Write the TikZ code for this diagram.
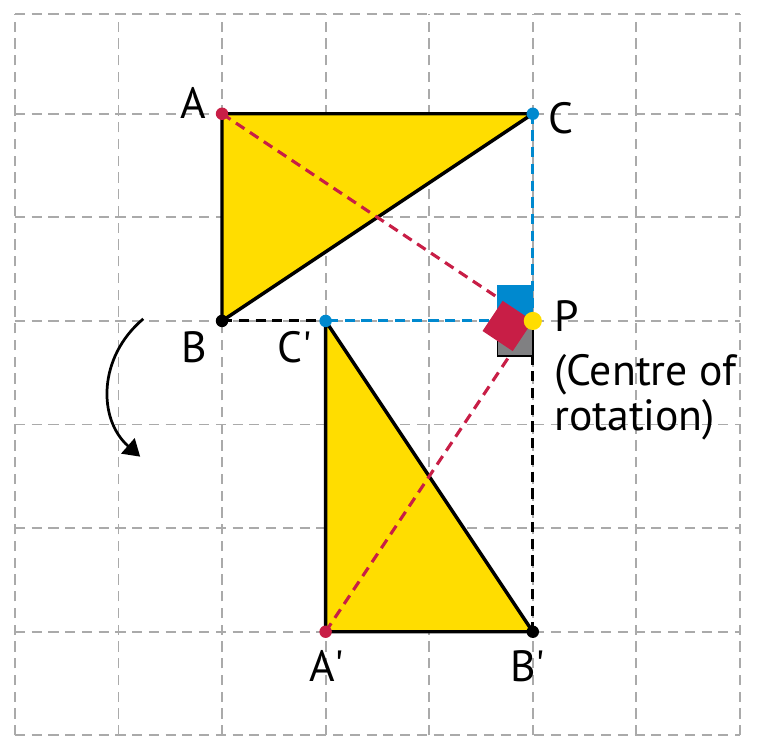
\documentclass[tikz,border=0pt]{standalone}
\usepackage{fontspec}
\setmainfont{PT Sans}
\usetikzlibrary{arrows.meta, positioning}
\definecolor{triyellow}{RGB}{255, 221, 0}
\definecolor{ptred}{RGB}{200, 30, 70}
\definecolor{ptblue}{RGB}{0, 137, 207}
\definecolor{gridgray}{RGB}{170, 170, 170}
\definecolor{sqgray}{RGB}{128, 128, 130}

\begin{document}
\begin{tikzpicture}[
  gridline/.style={gridgray, line width=0.5pt, dash pattern=on 2.8pt off 1.8pt},
  tri/.style={fill=triyellow, draw=black, line width=0.95pt},
  guide/.style={line width=0.85pt, dash pattern=on 2.8pt off 1.8pt},
  dot/.style={circle, fill, inner sep=0pt, minimum size=0.12cm},
  lbl/.style={font=\fontsize{12}{12.4}\selectfont, inner sep=0pt},
  rotarr/.style={-{Triangle[length=4.5pt, width=5.5pt]}, line width=0.75pt}]
  \useasboundingbox (-2.143,-4.141) rectangle (5.164,3.098);
  % grid
  \foreach \x in {-2,...,5} \draw[gridline] (\x,-4) -- (\x,2.96);
  \foreach \y in {-4,...,2} \draw[gridline] (-2,\y) -- (5,\y);
  \draw[gridline] (-2,2.96) -- (5,2.96);
  % points
  \coordinate (A)  at (0,2);
  \coordinate (B)  at (0,0);
  \coordinate (C)  at (3,2);
  \coordinate (P)  at (3,0);
  \coordinate (A1) at (1,-3);
  \coordinate (B1) at (3,-3);
  \coordinate (C1) at (1,0);
  % triangles
  \draw[tri] (A) -- (B) -- (C) -- cycle;
  \draw[tri] (A1) -- (B1) -- (C1) -- cycle;
  % construction lines
  \draw[guide, ptred]  (A) -- (P) -- (A1);
  \draw[guide, ptblue] (C) -- (P) -- (C1);
  \draw[guide, black]  (B) -- (C1);
  \draw[guide, black]  (P) -- (B1);
  % right angles at P
  \fill[ptblue] (P) rectangle ++(-0.35,0.35);
  \filldraw[fill=sqgray, draw=black, line width=0.4pt] (P) rectangle ++(-0.34,-0.34);
  \fill[ptred, shift={(P)}, rotate=146.31] (0,0) rectangle (0.35,0.35);
  % points
  \node[dot, ptred]  (dA)  at (A)  {};
  \node[dot, black]  (dB)  at (B)  {};
  \node[dot, ptblue] (dC)  at (C)  {};
  \node[dot, ptred]  (dA1) at (A1) {};
  \node[dot, black]  (dB1) at (B1) {};
  \node[dot, ptblue] (dC1) at (C1) {};
  \node[dot, triyellow, minimum size=0.175cm] (dP) at (P) {};
  % rotation arrow
  \coordinate (rs) at (-0.76,0.02);
  \coordinate (re) at (-0.79,-1.31);
  \draw[rotarr] (rs) .. controls (-1.2,-0.35) and (-1.2,-0.95) .. (re);
  % labels
  \node[lbl, left=0.145cm of A, anchor=base east, yshift=-0.05cm] (lA) {A};
  \node[lbl, right=0.145cm of C, anchor=base west, yshift=-0.19cm] (lC) {C};
  \node[lbl, left=0.135cm of B, anchor=base east, yshift=-0.4cm] (lB) {B};
  \node[lbl, left=0.125cm of C1, anchor=base east, yshift=-0.4cm] (lC1) {C\textquotesingle};
  \node[lbl, below=0.48cm of A1, anchor=base, xshift=0.01cm] (lA1) {A\textquotesingle};
  \node[lbl, below=0.48cm of B1, anchor=base, xshift=-0.05cm] (lB1) {B\textquotesingle};
  \node[lbl, right=0.2cm of P, anchor=base west, yshift=-0.105cm] (lP) {P};
  \node[lbl, below=0.2cm of lP.south west, anchor=north west, align=left] (lcentre) {(Centre of\\rotation)};
\end{tikzpicture}
\end{document}
